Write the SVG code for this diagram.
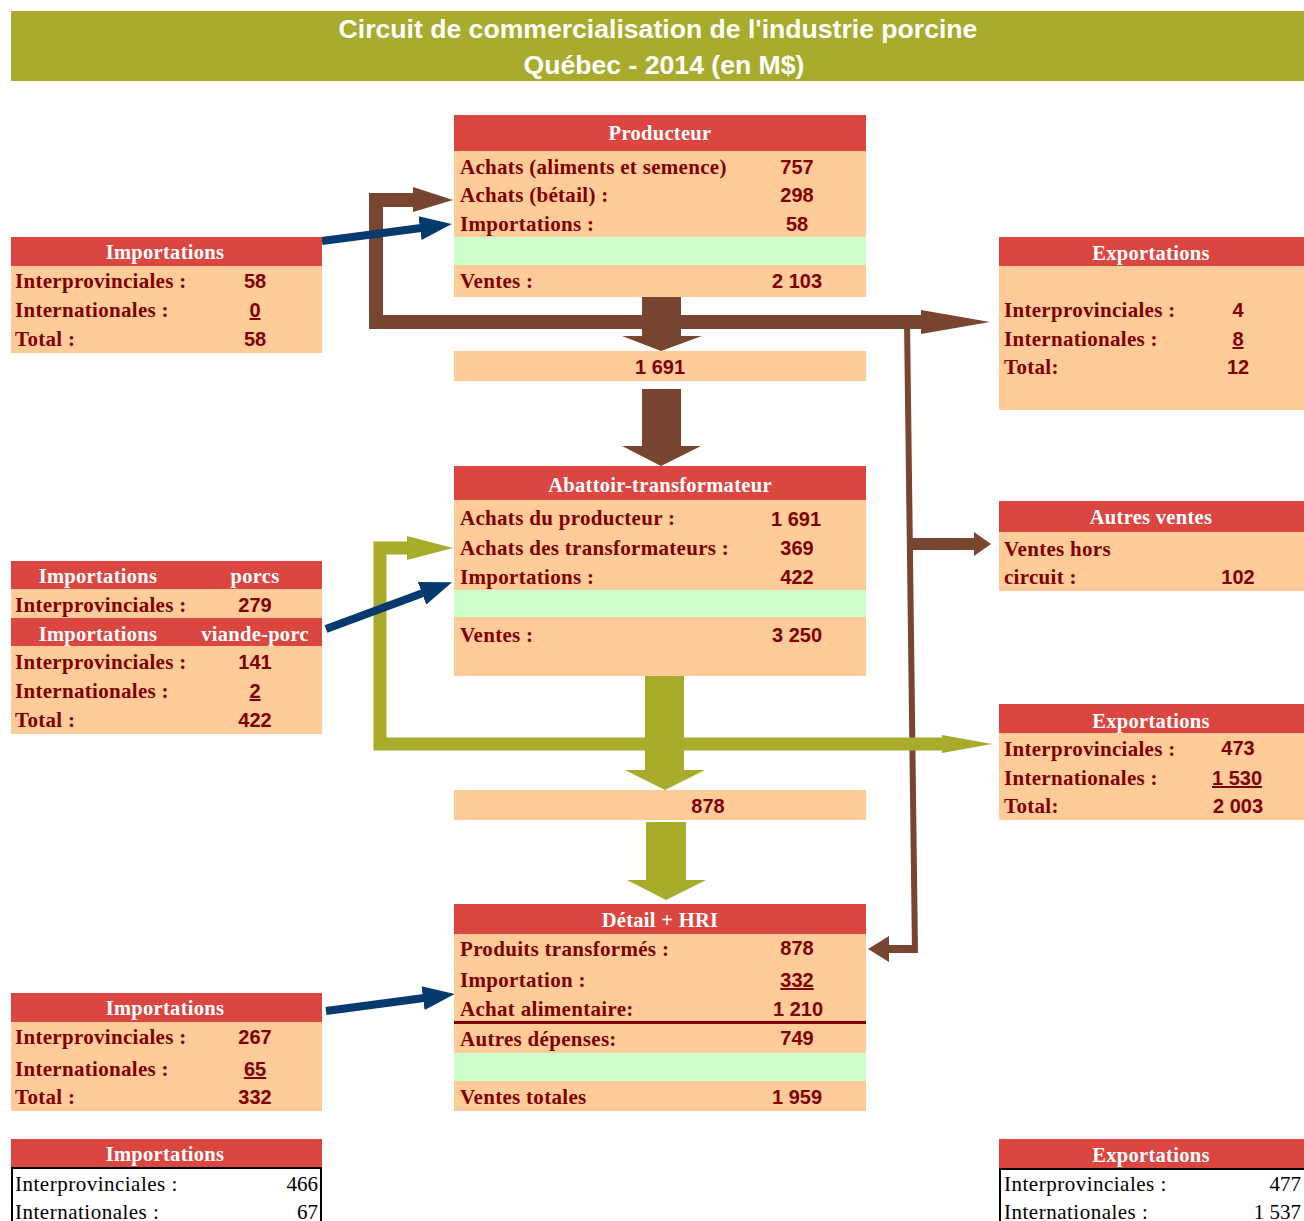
<svg xmlns="http://www.w3.org/2000/svg" width="1304" height="1221" viewBox="0 0 1304 1221">
<defs>
<style>
.hd{fill:#DB4641}
.pc{fill:#FFCC99}
.gr{fill:#CCFFCC}
.ht{font-family:"Liberation Serif","Times New Roman",serif;font-weight:bold;font-size:20.5px;letter-spacing:0.3px;fill:#fff;text-anchor:middle}
.lb{font-family:"Liberation Serif","Times New Roman",serif;font-weight:bold;font-size:21px;letter-spacing:0.3px;fill:#800000}
.nv{font-family:"Liberation Sans",Arial,sans-serif;font-weight:bold;font-size:20px;fill:#800000;text-anchor:middle}
.u{text-decoration:underline}
.pl{font-family:"Liberation Serif","Times New Roman",serif;font-size:21px;letter-spacing:0.5px;fill:#000}
.plr{font-family:"Liberation Serif","Times New Roman",serif;font-size:21px;fill:#000;text-anchor:end}
.tt{font-family:"Liberation Sans",Arial,sans-serif;font-weight:bold;font-size:26.6px;fill:#fff;text-anchor:middle}
.br{fill:#774530}
.ol{fill:#A8AC2A}
.blue{stroke:#053A6E;stroke-width:8;fill:none}
</style>
<marker id="bh" markerUnits="userSpaceOnUse" viewBox="0 0 32 24" refX="1" refY="12" markerWidth="32" markerHeight="24" orient="auto">
<path d="M0 0 L32 12 L0 24 Z" fill="#053A6E"/>
</marker>
</defs>
<rect width="1304" height="1221" fill="#fff"/>

<g id="title">
<rect x="11" y="11" width="1293" height="70" fill="#A8AB2B"/>
<text class="tt" x="658" y="38">Circuit de commercialisation de l'industrie porcine</text>
<text class="tt" x="664" y="74">Québec - 2014 (en M$)</text>
</g>

<g id="connectors">
<path d="M415 200 H376 V322 H924" fill="none" stroke="#774530" stroke-width="14" stroke-linejoin="miter"/>
<polygon class="br" points="413,187 453,200 413,212"/>
<polygon class="br" points="921,310 990,322 921,334"/>
<polygon class="br" points="642,297 681,297 681,336 702,336 661,351 622,336 642,336"/>
<polygon class="br" points="642,389 681,389 681,446 701,446 661,466 622,446 642,446"/>
<polygon class="br" points="904,320 910,320 918,953 912,953"/>
<rect class="br" x="886" y="945" width="30" height="8"/>
<polygon class="br" points="889,936 868,949 889,962"/>
<rect class="br" x="912" y="538" width="64" height="12"/>
<polygon class="br" points="974,532 991,544 974,556"/>
<path d="M410 548 H380 V744 H945" fill="none" stroke="#A8AC2A" stroke-width="13" stroke-linejoin="miter"/>
<polygon class="ol" points="407,536 453,548 407,560"/>
<polygon class="ol" points="942,735 992,744 942,753"/>
<polygon class="ol" points="645,676 684,676 684,770 705,770 665,790 625,770 645,770"/>
<polygon class="ol" points="646,822 686,822 686,880 706,880 666,900 627,880 646,880"/>
<line class="blue" x1="322" y1="241" x2="421" y2="228" marker-end="url(#bh)"/>
<line class="blue" x1="326" y1="629" x2="423" y2="593" marker-end="url(#bh)"/>
<line class="blue" x1="326" y1="1011" x2="424" y2="998" marker-end="url(#bh)"/>
</g>

<g id="producteur">
<rect class="hd" x="454" y="115" width="412" height="36"/>
<rect class="pc" x="454" y="151" width="412" height="86"/>
<rect class="gr" x="454" y="237" width="412" height="28"/>
<rect class="pc" x="454" y="265" width="412" height="32"/>
<text class="ht" x="660" y="140">Producteur</text>
<text class="lb" x="460" y="174">Achats (aliments et semence)</text>
<text class="nv" x="797" y="174">757</text>
<text class="lb" x="460" y="202">Achats (bétail) :</text>
<text class="nv" x="797" y="202">298</text>
<text class="lb" x="460" y="231">Importations :</text>
<text class="nv" x="797" y="231">58</text>
<text class="lb" x="460" y="288">Ventes :</text>
<text class="nv" x="797" y="288">2 103</text>
</g>

<g id="flux1691">
<rect class="pc" x="454" y="351" width="412" height="30"/>
<text class="nv" x="660" y="374">1 691</text>
</g>

<g id="abattoir">
<rect class="hd" x="454" y="466" width="412" height="34"/>
<rect class="pc" x="454" y="500" width="412" height="90"/>
<rect class="gr" x="454" y="590" width="412" height="27"/>
<rect class="pc" x="454" y="617" width="412" height="59"/>
<text class="ht" x="660" y="492">Abattoir-transformateur</text>
<text class="lb" x="460" y="525">Achats du producteur :</text>
<text class="nv" x="796" y="526">1 691</text>
<text class="lb" x="460" y="555">Achats des transformateurs :</text>
<text class="nv" x="797" y="555">369</text>
<text class="lb" x="460" y="584">Importations :</text>
<text class="nv" x="797" y="584">422</text>
<text class="lb" x="460" y="642">Ventes :</text>
<text class="nv" x="797" y="642">3 250</text>
</g>

<g id="flux878">
<rect class="pc" x="454" y="790" width="412" height="30"/>
<text class="nv" x="708" y="813">878</text>
</g>

<g id="detail">
<rect class="hd" x="454" y="904" width="412" height="30"/>
<rect class="pc" x="454" y="934" width="412" height="119"/>
<rect class="gr" x="454" y="1053" width="412" height="28"/>
<rect class="pc" x="454" y="1081" width="412" height="30"/>
<rect x="454" y="1021" width="412" height="3" fill="#800000"/>
<text class="ht" x="660" y="927">Détail + HRI</text>
<text class="lb" x="460" y="956">Produits transformés :</text>
<text class="nv" x="797" y="955">878</text>
<text class="lb" x="460" y="987">Importation :</text>
<text class="nv u" x="797" y="987">332</text>
<text class="lb" x="460" y="1016">Achat alimentaire:</text>
<text class="nv" x="798" y="1016">1 210</text>
<text class="lb" x="460" y="1046">Autres dépenses:</text>
<text class="nv" x="797" y="1045">749</text>
<text class="lb" x="460" y="1104">Ventes totales</text>
<text class="nv" x="797" y="1104">1 959</text>
</g>

<g id="importations1">
<rect class="hd" x="11" y="237" width="311" height="29"/>
<rect class="pc" x="11" y="266" width="311" height="87"/>
<text class="ht" x="165" y="259">Importations</text>
<text class="lb" x="15" y="288">Interprovinciales :</text>
<text class="nv" x="255" y="288">58</text>
<text class="lb" x="15" y="317">Internationales :</text>
<text class="nv u" x="255" y="317">0</text>
<text class="lb" x="15" y="346">Total :</text>
<text class="nv" x="255" y="346">58</text>
</g>

<g id="importations2">
<rect class="hd" x="11" y="561" width="311" height="28"/>
<rect class="pc" x="11" y="589" width="311" height="29"/>
<rect class="hd" x="11" y="618" width="311" height="28"/>
<rect class="pc" x="11" y="646" width="311" height="88"/>
<text class="ht" x="98" y="583">Importations</text>
<text class="ht" x="255" y="583">porcs</text>
<text class="lb" x="15" y="612">Interprovinciales :</text>
<text class="nv" x="255" y="612">279</text>
<text class="ht" x="98" y="641">Importations</text>
<text class="ht" x="255" y="641">viande-porc</text>
<text class="lb" x="15" y="669">Interprovinciales :</text>
<text class="nv" x="255" y="669">141</text>
<text class="lb" x="15" y="698">Internationales :</text>
<text class="nv u" x="255" y="698">2</text>
<text class="lb" x="15" y="727">Total :</text>
<text class="nv" x="255" y="727">422</text>
</g>

<g id="importations3">
<rect class="hd" x="11" y="993" width="311" height="29"/>
<rect class="pc" x="11" y="1022" width="311" height="89"/>
<text class="ht" x="165" y="1015">Importations</text>
<text class="lb" x="15" y="1044">Interprovinciales :</text>
<text class="nv" x="255" y="1044">267</text>
<text class="lb" x="15" y="1076">Internationales :</text>
<text class="nv u" x="255" y="1076">65</text>
<text class="lb" x="15" y="1104">Total :</text>
<text class="nv" x="255" y="1104">332</text>
</g>

<g id="exportations1">
<rect class="hd" x="999" y="237" width="305" height="29"/>
<rect class="pc" x="999" y="266" width="305" height="144"/>
<text class="ht" x="1151" y="260">Exportations</text>
<text class="lb" x="1004" y="317">Interprovinciales :</text>
<text class="nv" x="1238" y="317">4</text>
<text class="lb" x="1004" y="346">Internationales :</text>
<text class="nv u" x="1238" y="346">8</text>
<text class="lb" x="1004" y="374">Total:</text>
<text class="nv" x="1238" y="374">12</text>
</g>

<g id="autresventes">
<rect class="hd" x="999" y="501" width="305" height="31"/>
<rect class="pc" x="999" y="532" width="305" height="59"/>
<text class="ht" x="1151" y="524">Autres ventes</text>
<text class="lb" x="1004" y="556">Ventes hors</text>
<text class="lb" x="1004" y="584">circuit :</text>
<text class="nv" x="1238" y="584">102</text>
</g>

<g id="exportations2">
<rect class="hd" x="999" y="704" width="305" height="29"/>
<rect class="pc" x="999" y="733" width="305" height="87"/>
<text class="ht" x="1151" y="728">Exportations</text>
<text class="lb" x="1004" y="756">Interprovinciales :</text>
<text class="nv" x="1238" y="755">473</text>
<text class="lb" x="1004" y="785">Internationales :</text>
<text class="nv u" x="1237" y="785">1 530</text>
<text class="lb" x="1004" y="813">Total:</text>
<text class="nv" x="1238" y="813">2 003</text>
</g>

<g id="importationsTotal">
<rect class="hd" x="11" y="1139" width="311" height="28"/>
<rect x="12" y="1168" width="309" height="60" fill="#fff" stroke="#000" stroke-width="2"/>
<text class="ht" x="165" y="1161">Importations</text>
<text class="pl" x="15" y="1191">Interprovinciales :</text>
<text class="plr" x="318" y="1191">466</text>
<text class="pl" x="15" y="1219">Internationales :</text>
<text class="plr" x="318" y="1219">67</text>
</g>

<g id="exportationsTotal">
<rect class="hd" x="999" y="1139" width="305" height="29"/>
<rect x="1000" y="1169" width="310" height="60" fill="#fff" stroke="#000" stroke-width="2"/>
<text class="ht" x="1151" y="1162">Exportations</text>
<text class="pl" x="1004" y="1191">Interprovinciales :</text>
<text class="plr" x="1301" y="1191">477</text>
<text class="pl" x="1004" y="1219">Internationales :</text>
<text class="plr" x="1301" y="1219">1 537</text>
</g>
</svg>
